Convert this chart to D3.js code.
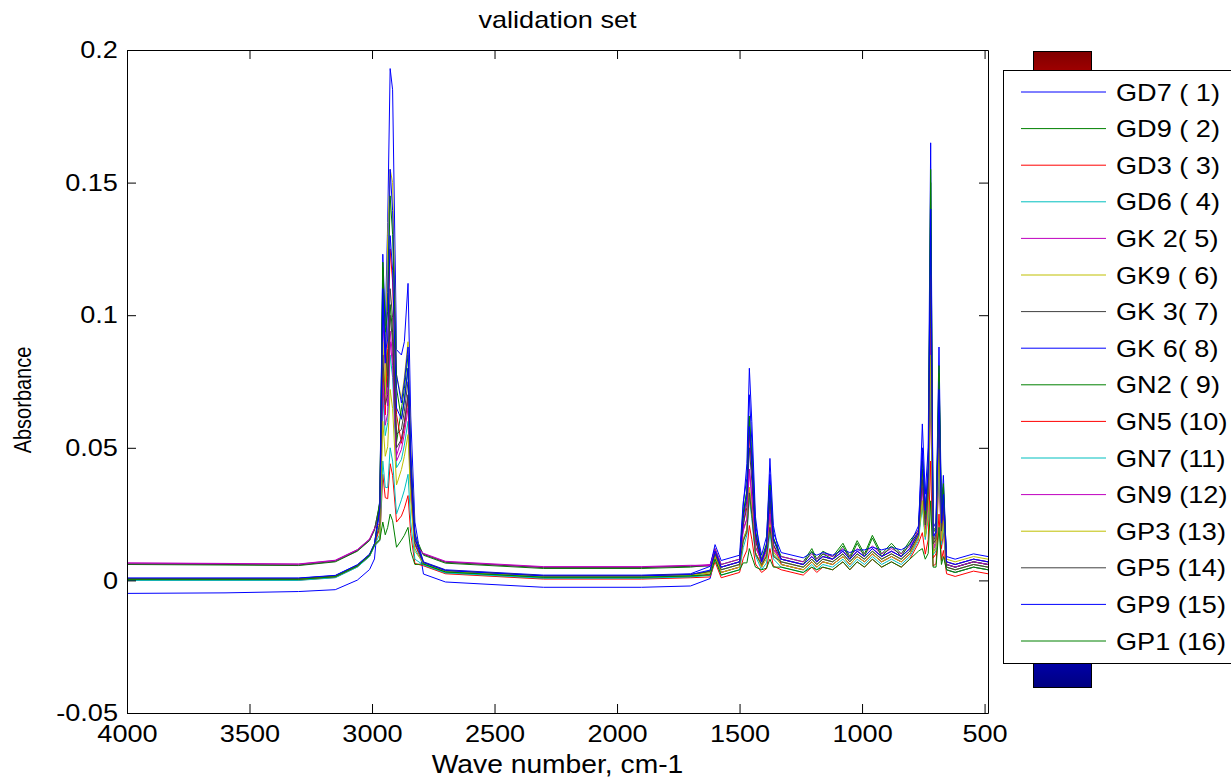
<!DOCTYPE html>
<html><head><meta charset="utf-8">
<script src="https://cdn.jsdelivr.net/npm/d3@7"></script>
<style>
body{margin:0;background:#fff}
svg{display:block}
text{font-family:Arial,"Liberation Sans",sans-serif;fill:#000}
</style>
</head><body>
<svg id="c" width="1231" height="780"></svg>
<script>
// ---------------- data ----------------
const wavenumbers = [4000,3600,3300,3150,3060,3010,2990,2968,2956,2946,
  2936,2926,2916,2900,2880,2868,2853,2842,2825,2790,
  2700,2300,1900,1700,1620,1600,1575,1500,1485,1470,
  1460,1450,1435,1410,1390,1376,1362,1330,
  1240,1205,1185,1160,1120,1078,1050,1020,990,958,920,880,840,805,
  770,754,742,730,
  720,710,698,686,676,668,655,620,545,486];

const seriesNames = ["GD7 ( 1)","GD9 ( 2)","GD3 ( 3)","GD6 ( 4)","GK 2( 5)","GK9 ( 6)","GK 3( 7)","GK 6( 8)","GN2 ( 9)","GN5 (10)","GN7 (11)","GN9 (12)","GP3 (13)","GP5 (14)","GP9 (15)","GP1 (16)"];

const gd7 = [-.0049,-.0047,-.0042,-.0035,.0001,.0041,.0081,.031,.123,.096,
  .135,.193,.185,.087,.085,.090,.112,.062,.022,.0024,
  -.0006,-.0026,-.0026,-.0021,.0007,.009,.003,.005,.028,.044,
  .080,.060,.024,.005,.0132,.046,.0207,.006,
  .004,.007,.005,.007,.006,.009,.006,.009,.007,.010,.007,.009,.007,.010,
  .016,.059,.0325,.050,
  .165,.0198,.022,.088,.0264,.0396,.006,.005,.007,.006];
const gd9 = [.0060,.0058,.0056,.0070,.0110,.0150,.0190,.0295,.118,.092,
  .0728,.104,.0936,.052,.0646,.0723,.085,.0468,.017,.0095,
  .0065,.0045,.0045,.0050,.0058,.012,.006,.008,.0253,.0336,
  .061,.0458,.0183,.008,.014,.035,.0158,.009,
  .007,.012,.008,.011,.009,.014,.009,.015,.010,.017,.010,.014,.010,.015,
  .019,.040,.022,.034,
  .155,.0186,.0203,.081,.0243,.0365,.007,.006,.008,.007];
const gd3 = [.0003,.0002,.0003,.0013,.0053,.0093,.0133,.020,.080,.0624,
  .0875,.125,.1125,.0625,.0517,.0578,.068,.0374,.0136,.0058,
  .0028,.0008,.0008,.0013,.0024,.009,.003,.005,.0205,.0303,
  .055,.0413,.0165,.005,.010,.030,.0135,.006,
  .004,.007,.005,.007,.006,.009,.006,.009,.007,.010,.007,.009,.007,.010,
  .016,.030,.0165,.0255,
  .070,.0084,.010,.040,.012,.018,.004,.003,.005,.004];
const gd6 = [.0002,.0002,.0002,.0012,.0052,.0092,.0132,.0175,.070,.0546,
  .0595,.085,.0765,.0425,.0456,.051,.060,.033,.012,.006,
  .003,.001,.001,.0015,.003,.010,.004,.006,.0155,.0193,
  .035,.0263,.0105,.006,.0094,.022,.0099,.007,
  .005,.008,.006,.008,.007,.010,.007,.010,.008,.011,.008,.010,.008,.011,
  .017,.030,.0165,.0255,
  .090,.0108,.0125,.050,.015,.0225,.005,.004,.006,.005];
const gk2 = [.0065,.0063,.0061,.0075,.0115,.0155,.0195,.025,.100,.078,
  .0658,.094,.0846,.047,.0532,.0595,.070,.0385,.014,.010,
  .007,.005,.005,.0055,.006,.012,.006,.008,.0196,.0231,
  .042,.0315,.0126,.008,.0122,.026,.0117,.009,
  .007,.010,.008,.010,.009,.012,.009,.012,.010,.013,.010,.012,.010,.013,
  .019,.035,.0193,.0298,
  .100,.012,.015,.060,.018,.027,.007,.006,.008,.007];
const gk9 = [.0005,.0005,.0005,.0015,.0055,.0095,.0135,.0225,.090,.0702,
  .130,.155,.150,.0775,.0684,.0765,.090,.0495,.018,.0065,
  .0035,.0015,.0015,.002,.0033,.010,.004,.006,.0155,.0193,
  .035,.0263,.0105,.006,.0098,.024,.0108,.007,
  .005,.008,.006,.008,.007,.010,.007,.010,.008,.011,.008,.010,.008,.011,
  .017,.040,.022,.034,
  .110,.0132,.0163,.065,.0195,.0293,.008,.007,.009,.008];
const gk3 = [.0062,.0060,.0058,.0072,.0112,.0152,.0192,.0288,.115,.0897,
  .077,.110,.099,.055,.057,.0638,.075,.0413,.015,.0098,
  .0068,.0048,.0048,.0053,.0054,.011,.005,.007,.021,.0275,
  .050,.0375,.015,.007,.012,.030,.0135,.008,
  .006,.009,.007,.009,.008,.011,.008,.011,.009,.012,.009,.011,.009,.012,
  .018,.042,.0231,.0357,
  .120,.0144,.0175,.070,.021,.0315,.006,.005,.007,.006];
const gk6 = [.0008,.0008,.0008,.0018,.0058,.0098,.0138,.0263,.105,.0819,
  .1085,.155,.1395,.0775,.0669,.0748,.088,.0484,.0176,.007,
  .004,.002,.002,.0025,.0053,.0135,.0075,.0095,.0295,.0385,
  .070,.0525,.021,.0095,.0165,.040,.018,.0105,
  .0085,.0105,.0095,.0105,.0095,.0115,.0105,.0115,.0115,.0125,.0115,.0125,.0115,.0135,
  .0205,.050,.0275,.0425,
  .130,.0156,.0188,.075,.0225,.0338,.009,.008,.010,.009];
const gn2 = [.0004,.0004,.0004,.0014,.0054,.0094,.0134,.030,.120,.0936,
  .1015,.145,.1305,.0725,.0608,.068,.080,.044,.016,.0062,
  .0032,.0012,.0012,.0017,.0036,.011,.005,.007,.0246,.0341,
  .062,.0465,.0186,.007,.0132,.036,.0162,.008,
  .006,.011,.007,.010,.008,.013,.008,.014,.009,.016,.009,.013,.009,.014,
  .018,.045,.0248,.0383,
  .150,.018,.0195,.078,.0234,.0351,.006,.005,.007,.006];
const gn5 = [.0001,.0001,.0001,.0011,.0051,.0091,.0131,.0151,.040,.0312,
  .0308,.044,.0396,.022,.0243,.0272,.032,.0176,.0064,.0055,
  .0025,.0005,.0005,.001,.0013,.007,.001,.003,.0082,.0114,
  .0207,.0155,.0062,.003,.0044,.012,.0054,.004,
  .002,.005,.003,.005,.004,.007,.004,.007,.005,.008,.005,.007,.005,.008,
  .014,.018,.0099,.0153,
  .045,.0054,.0063,.025,.0075,.0113,.0025,.0015,.0035,.0025];
const gn7 = [.0000,.0000,.0000,.0010,.0050,.0090,.0130,.015,.045,.0351,
  .035,.050,.045,.025,.0304,.034,.040,.022,.008,.0058,
  .0028,.0008,.0008,.0013,.0019,.008,.002,.004,.0123,.0171,
  .031,.0233,.0093,.004,.0066,.018,.0081,.005,
  .003,.006,.004,.006,.005,.008,.005,.008,.006,.009,.006,.008,.006,.009,
  .015,.028,.0154,.0238,
  .080,.0096,.0113,.045,.0135,.0203,.004,.003,.005,.004];
const gn9 = [.0066,.0064,.0062,.0076,.0116,.0156,.0196,.0216,.075,.0585,
  .063,.090,.081,.045,.0494,.0553,.065,.0358,.013,.0102,
  .0072,.0052,.0052,.0057,.0056,.011,.005,.007,.0186,.0231,
  .042,.0315,.0126,.007,.011,.025,.0113,.008,
  .006,.009,.007,.009,.008,.011,.008,.011,.009,.012,.009,.011,.009,.012,
  .018,.035,.0193,.0298,
  .095,.0114,.0138,.055,.0165,.0248,.006,.005,.007,.006];
const gp3 = [.0006,.0006,.0006,.0016,.0056,.0096,.0136,.0156,.060,.0468,
  .0504,.072,.0648,.036,.0418,.0468,.055,.0303,.011,.0065,
  .0035,.0015,.0015,.002,.0028,.009,.003,.005,.0145,.0193,
  .035,.0263,.0105,.005,.0082,.021,.0095,.006,
  .004,.007,.005,.007,.006,.009,.006,.009,.007,.010,.007,.009,.007,.010,
  .016,.030,.0165,.0255,
  .085,.0102,.0125,.050,.015,.0225,.005,.004,.006,.005];
const gp5 = [.0007,.0007,.0007,.0017,.0057,.0097,.0137,.0213,.085,.0663,
  .070,.100,.090,.050,.0532,.0595,.070,.0385,.014,.0068,
  .0038,.0018,.0018,.0023,.0034,.010,.004,.006,.0149,.0182,
  .033,.0248,.0099,.006,.009,.020,.009,.007,
  .005,.008,.006,.008,.007,.010,.007,.010,.008,.011,.008,.010,.008,.011,
  .017,.038,.0209,.0323,
  .115,.0138,.0155,.062,.0186,.0279,.005,.004,.006,.005];
const gp9 = [.0009,.0009,.0009,.0019,.0059,.0099,.0139,.0275,.110,.0858,
  .091,.130,.117,.065,.0608,.068,.080,.044,.016,.0067,
  .0037,.0017,.0017,.0022,.0039,.011,.005,.007,.0234,.0319,
  .058,.0435,.0174,.007,.0128,.034,.0153,.008,
  .006,.009,.007,.009,.008,.011,.008,.011,.009,.012,.009,.011,.009,.012,
  .018,.048,.0264,.0408,
  .140,.0168,.018,.072,.0216,.0324,.007,.006,.008,.007];
const gp1 = [.0004,.0004,.0004,.0014,.0054,.0094,.0134,.0154,.022,.0172,
  .020,.025,.0225,.0125,.0152,.017,.020,.011,.006,.0062,
  .0032,.0012,.0012,.0017,.0021,.008,.002,.004,.0066,.0066,
  .012,.009,.005,.004,.0046,.008,.005,.005,
  .003,.005,.004,.005,.004,.007,.004,.007,.005,.008,.005,.007,.005,.008,
  .011,.012,.008,.0102,
  .030,.005,.005,.020,.006,.009,.004,.003,.005,.004];

const seriesValues = [gd7,gd9,gd3,gd6,gk2,gk9,gk3,gk6,gn2,gn5,gn7,gn9,gp3,gp5,gp9,gp1];

const xTicks = [4000,3500,3000,2500,2000,1500,1000,500];
const xTickLabels = ["4000","3500","3000","2500","2000","1500","1000","500"];
const yTicks = [-0.05,0,0.05,0.1,0.15,0.2];
const yTickLabels = ["-0.05","0","0.05","0.1","0.15","0.2"];

// ---------------- style ----------------
const lineColors = ["#0000ff","#008000","#ff0000","#00bfbf","#bf00bf","#bfbf00","#404040"];
const W = 1231, H = 780;
const m = {l:127, r:988, t:50, b:713};
const SX = 1.13;          // horizontal glyph stretch seen in the reference
const FS = 24;

const svg = d3.select("#c");
svg.append("rect").attr("width",W).attr("height",H).attr("fill","#fff");

const x = d3.scaleLinear().domain([4000,486]).range([m.l,m.r]);
const y = d3.scaleLinear().domain([-0.05,0.2]).range([m.b,m.t]);

const defs = svg.append("defs");
defs.append("clipPath").attr("id","clip").append("rect")
  .attr("x",m.l).attr("y",m.t).attr("width",m.r-m.l).attr("height",m.b-m.t);

// spectra
const line = d3.line().x((d,i)=>x(wavenumbers[i])).y(d=>y(d));
const gl = svg.append("g").attr("clip-path","url(#clip)");
seriesValues.forEach((vals,i)=>{
  gl.append("path").attr("d",line(vals)).attr("fill","none")
    .attr("stroke",lineColors[i%7]).attr("stroke-width",1)
    .attr("stroke-linejoin","round");
});

// axes
function styleAxis(g){
  g.attr("font-size",FS).attr("font-family","Arial, 'Liberation Sans', sans-serif");
  g.selectAll("path,line").attr("stroke","#000").attr("stroke-width",1);
  g.selectAll("text").attr("fill","#000");
}
const xa = svg.append("g").attr("transform",`translate(0,${m.b})`)
  .call(d3.axisBottom(x).tickValues(xTicks).tickFormat((d,i)=>xTickLabels[i])
    .tickSizeInner(-9).tickSizeOuter(0).tickPadding(12));
styleAxis(xa);
xa.selectAll("text").attr("transform",`scale(${SX},1)`);

const ya = svg.append("g").attr("transform",`translate(${m.l},0)`)
  .call(d3.axisLeft(y).tickValues(yTicks).tickFormat((d,i)=>yTickLabels[i])
    .tickSizeInner(-9).tickSizeOuter(0).tickPadding(8));
styleAxis(ya);
ya.selectAll("text").attr("transform",`scale(${SX},1)`);

const xt = svg.append("g").attr("transform",`translate(0,${m.t})`)
  .call(d3.axisTop(x).tickValues(xTicks).tickFormat(()=>"").tickSizeInner(-9).tickSizeOuter(0));
styleAxis(xt);
const yr = svg.append("g").attr("transform",`translate(${m.r},0)`)
  .call(d3.axisRight(y).tickValues(yTicks).tickFormat(()=>"").tickSizeInner(-9).tickSizeOuter(0));
styleAxis(yr);

// titles
svg.append("text").attr("transform",`translate(${(m.l+m.r)/2},28) scale(${SX},1)`)
  .attr("text-anchor","middle").attr("font-size",FS).text("validation set");
svg.append("text").attr("transform",`translate(${(m.l+m.r)/2},773) scale(${SX},1)`)
  .attr("text-anchor","middle").attr("font-size",FS+1).text("Wave number, cm-1");
svg.append("text").attr("transform",`translate(31,400) rotate(-90) scale(1,1.22)`)
  .attr("text-anchor","middle").attr("font-size",20).text("Absorbance");

// colorbar (jet)
const grad = defs.append("linearGradient").attr("id","jet").attr("x1",0).attr("y1",0).attr("x2",0).attr("y2",1);
[[0,"#800000"],[0.125,"#ff0000"],[0.375,"#ffff00"],[0.625,"#00ffff"],[0.875,"#0000ff"],[1,"#000080"]]
  .forEach(s=>grad.append("stop").attr("offset",s[0]).attr("stop-color",s[1]));
svg.append("rect").attr("x",1033.5).attr("y",51.5).attr("width",58).attr("height",636)
  .attr("fill","url(#jet)").attr("stroke","#000").attr("stroke-width",1);

// legend
const lg = svg.append("g");
lg.append("rect").attr("x",1003.5).attr("y",70.5).attr("width",240).attr("height",593)
  .attr("fill","#fff").attr("stroke","#000").attr("stroke-width",1);
seriesNames.forEach((name,i)=>{
  const yy = 92 + i*36.6;
  lg.append("line").attr("x1",1021).attr("x2",1106).attr("y1",yy).attr("y2",yy)
    .attr("stroke",lineColors[i%7]).attr("stroke-width",1);
  lg.append("text").attr("transform",`translate(1116,${yy+8.5}) scale(${SX},1)`)
    .attr("font-size",FS).style("white-space","pre").text(name);
});
</script>
</body></html>
